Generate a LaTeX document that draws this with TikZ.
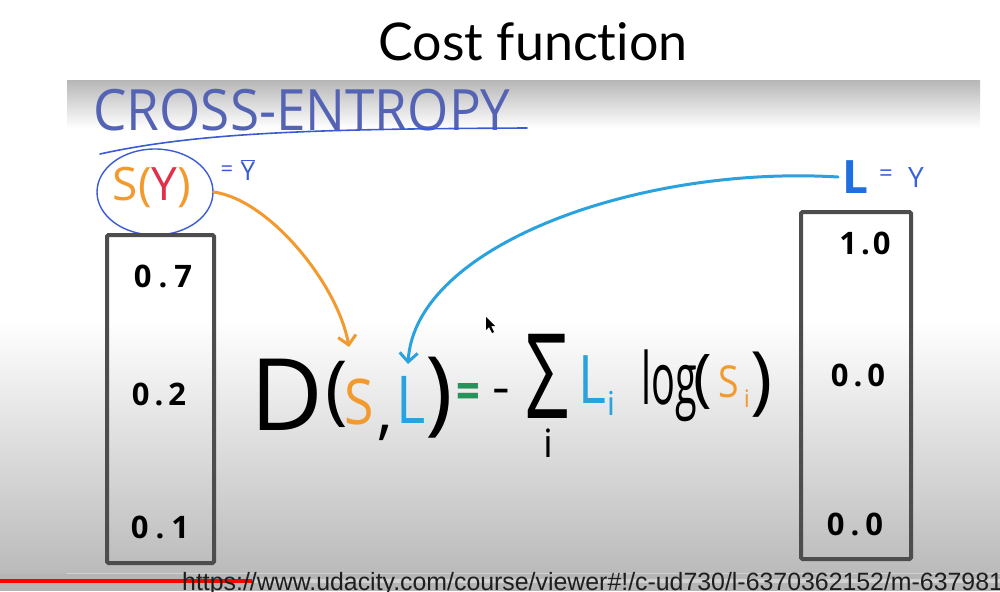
\documentclass[tikz,border=0pt]{standalone}
\usepackage{fontspec}
\setmainfont{Open Sans}
\newfontfamily\titlefont[Ligatures={NoCommon,NoRequired,NoContextual,NoDiscretionary}]{Lato}
\newfontfamily\urlfont{Liberation Sans}
\newfontfamily\hw{Open Sans}
\usetikzlibrary{arrows.meta,shapes.geometric}
\definecolor{hwpurple}{HTML}{5563B5}
\definecolor{circblue}{HTML}{3B5BD6}
\definecolor{hworange}{HTML}{F29A2E}
\definecolor{hwred}{HTML}{E0304A}
\definecolor{hwblue}{HTML}{2AA2DE}
\definecolor{lblue}{HTML}{1F6FE0}
\definecolor{ylblue}{HTML}{3A62D8}
\definecolor{hwgreen}{HTML}{27935A}
\definecolor{boxgray}{HTML}{4D4D4D}
\definecolor{urlgray}{HTML}{1E1E1E}
\begin{document}
\begin{tikzpicture}[x=1pt,y=-1pt,
  hwtext/.style={inner sep=0pt, outer sep=0pt, font=\hw},
  valbox/.style={draw=boxgray, line width=4pt, rounded corners=1.5pt, inner sep=0pt},
  val/.style={inner sep=0pt, outer sep=0pt, font=\hw\bfseries\fontsize{31}{31}\selectfont, text=black},
  handarrow/.style={line width=3pt, line cap=round, line join=round, -{Straight Barb[length=9pt,width=18pt,line width=3pt]}}
]
\useasboundingbox (0,0) rectangle (1000,591);
% background
\fill[white] (0,0) rectangle (1000,591);
\shade[top color=black!28, bottom color=white] (67,81) rectangle (980,128);
\shade[top color=white, bottom color=black!27] (0,320) rectangle (1000,574);
\fill[black!29] (0,574) rectangle (1000,591);
\draw[white, opacity=0.35, line width=1pt] (67,573) -- (1000,573);
\draw[white, opacity=0.4, line width=4pt] (252,581) -- (1000,581);
\draw[red, line width=4pt] (0,581) -- (252,581);

% title
\node[inner sep=0pt, font=\titlefont\fontsize{52}{60}\selectfont] (title) at (533,42) {Cost function};

% cross-entropy heading
\node[hwtext, text=hwpurple, font=\hw\fontsize{57}{60}\selectfont] (ce) at (302,110) {\scalebox{0.93}[1]{CROSS-ENTROPY}};
\draw[circblue, line width=1.6pt, line cap=round] (100,154) .. controls (200,132) and (320,129) .. (527,128);

% S(Y) circled
\node[draw=circblue, line width=1.4pt, ellipse, minimum width=116pt, minimum height=86pt] (sy) at (155,192) {};
\node[hwtext, font=\hw\fontsize{46}{46}\selectfont] (sytext) at (152,187) {\textcolor{hworange}{S(}\textcolor{hwred}{Y}\textcolor{hworange}{)}};
\node[hwtext, text=circblue, font=\hw\fontsize{22}{22}\selectfont] (syeq) at (227,171) {=};
\node[hwtext, text=circblue, font=\hw\fontsize{26}{26}\selectfont] (sybar) at (248,170) {$\overline{\hbox{\hw Y}}$};

% L = Y
\node[hwtext, text=lblue, font=\hw\bfseries\fontsize{46}{46}\selectfont] (ltop) at (855,177) {L};
\node[hwtext, text=ylblue, font=\hw\fontsize{24}{24}\selectfont] (leq) at (886,176) {=};
\node[hwtext, text=ylblue, font=\hw\fontsize{28}{28}\selectfont] (ly) at (916,178) {Y};

% boxes
\node[valbox, minimum width=107pt, minimum height=328pt] (lbox) at (160.5,399) {};
\node[valbox, minimum width=110pt, minimum height=347pt] (rbox) at (856,385.5) {};
\node[val] (s1) at (163,276) {0\hspace{7pt}.\hspace{7pt}7};
\node[val] (s2) at (159,394) {0\hspace{5pt}.\hspace{5pt}2};
\node[val] (s3) at (160,527) {0\hspace{7pt}.\hspace{7pt}1};
\node[val] (l1) at (865,243) {1\hspace{4pt}.\hspace{3pt}0};
\node[val] (l2) at (858,375) {0\hspace{5pt}.\hspace{5pt}0};
\node[val] (l3) at (855,524) {0\hspace{6pt}.\hspace{6pt}0};

% equation
\node[hwtext, font=\hw\fontsize{100}{100}\selectfont] (eD) at (287,395) {\scalebox{1.0}[1]{D}};
\node[hwtext, font=\hw\fontsize{76}{76}\selectfont] (eo1) at (337,394) {(};
\node[hwtext, text=hworange, font=\hw\fontsize{63}{63}\selectfont] (eS) at (359,401.5) {\scalebox{0.85}[1]{S}};
\node[hwtext, font=\hw\fontsize{63}{63}\selectfont] (ecomma) at (385,433) {,};
\node[hwtext, text=hwblue, font=\hw\fontsize{66}{66}\selectfont] (eL) at (411,400) {\scalebox{0.85}[1]{L}};
\node[hwtext, font=\hw\fontsize{93}{93}\selectfont] (ec1) at (439,398) {)};
\node[hwtext, text=hwgreen, font=\hw\bfseries\fontsize{52}{52}\selectfont] (eeq) at (468,396) {\scalebox{0.8}[1]{=}};
\node[hwtext, font=\hw\fontsize{50}{50}\selectfont] (eminus) at (501,397) {\scalebox{1.1}[1]{-}};
\node[hwtext, font=\hw\fontsize{118}{118}\selectfont] (esum) at (547,376) {\scalebox{0.65}[1]{Σ}};
\node[hwtext, font=\hw\fontsize{39}{39}\selectfont] (esumi) at (548,443) {i};
\node[hwtext, text=hwblue, font=\hw\fontsize{67}{67}\selectfont] (eLi) at (592,380) {\scalebox{0.8}[1]{L}};
\node[hwtext, text=hwblue, font=\hw\fontsize{33}{33}\selectfont] (eLisub) at (611,403) {i};
\node[hwtext, font=\hw\fontsize{72}{72}\selectfont] (elog) at (669,386) {\scalebox{0.55}[1]{log}};
\node[hwtext, font=\hw\fontsize{63}{63}\selectfont] (eo2) at (703,382) {(};
\node[hwtext, text=hworange, font=\hw\fontsize{44}{44}\selectfont] (eSi) at (729,382) {\scalebox{0.85}[1]{S}};
\node[hwtext, text=hworange, font=\hw\fontsize{24}{24}\selectfont] (eSisub) at (747,399) {i};
\node[hwtext, font=\hw\fontsize{75}{75}\selectfont] (ec2) at (762,385) {)};

% arrows
\coordinate (stip) at (349,347);
\coordinate (ltip) at (408,364);
\draw[handarrow, hworange] (sy.east) .. controls (270,200) and (338,285) .. (stip);
\draw[handarrow, hwblue] (ltop.west) ++(-4,0) .. controls (640,165) and (415,245) .. (ltip);

% mouse cursor
\fill[black] (486,317) -- (486,330) -- (489,327) -- (492,333) -- (494,332) -- (491,326) -- (495,326) -- cycle;

% url
\node[anchor=base west, inner sep=0pt, text=urlgray, font=\urlfont\fontsize{25}{30}\selectfont] (url) at (182,590) {\scalebox{0.995}[1]{https://www.udacity.com/course/viewer\#!/c-ud730/l-6370362152/m-637981}};
\end{tikzpicture}
\end{document}
